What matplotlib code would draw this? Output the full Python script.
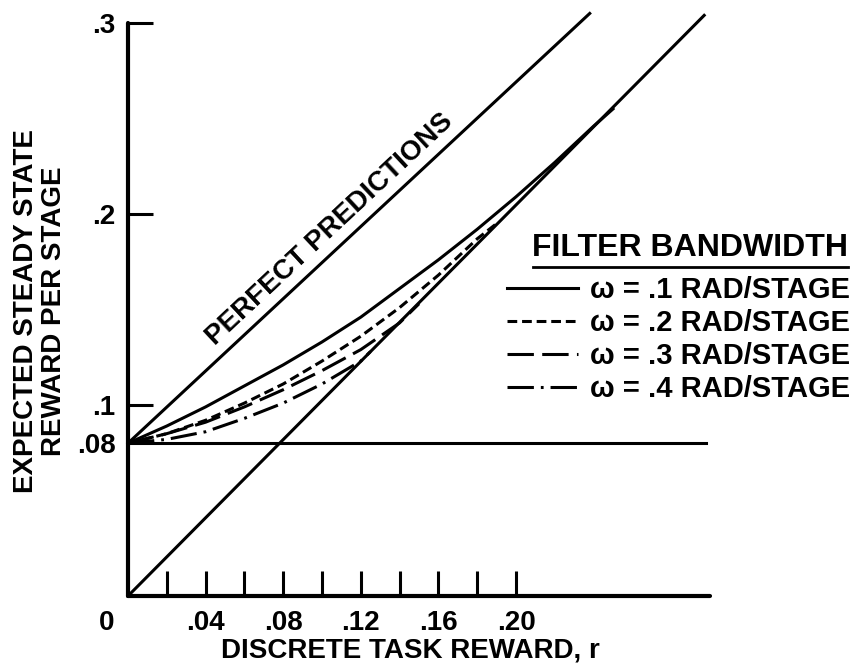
import matplotlib.pyplot as plt
from matplotlib.lines import Line2D
from matplotlib.transforms import ScaledTranslation

plt.rcParams['font.family'] = ['Liberation Sans', 'DejaVu Sans']
plt.rcParams['font.weight'] = 'bold'
plt.rcParams['axes.labelweight'] = 'bold'
plt.rcParams['lines.scale_dashes'] = False

# reference lines
r_line_x = [0.0, 0.297]
r_line_y = [0.0, 0.304]
perfect_x = [0.0, 0.238]
perfect_y = [0.08, 0.305]
base_x = [0.0, 0.298]
base_y = [0.08, 0.08]

# filter bandwidth curves
w1_x = [0.0, 0.02, 0.04, 0.06, 0.08, 0.10, 0.12, 0.14, 0.16, 0.18, 0.20, 0.22, 0.24, 0.25]
w1_y = [0.080, 0.089, 0.099, 0.110, 0.121, 0.133, 0.146, 0.161, 0.176, 0.192, 0.209, 0.227, 0.246, 0.255]
w2_x = [0.0, 0.02, 0.04, 0.06, 0.08, 0.10, 0.12, 0.14, 0.16, 0.18, 0.19]
w2_y = [0.080, 0.085, 0.092, 0.101, 0.111, 0.123, 0.136, 0.151, 0.168, 0.187, 0.195]
w3_x = [0.0, 0.02, 0.04, 0.06, 0.08, 0.10, 0.12, 0.14, 0.15]
w3_y = [0.080, 0.085, 0.091, 0.099, 0.108, 0.118, 0.129, 0.143, 0.153]
w4_x = [0.0, 0.02, 0.04, 0.06, 0.08, 0.10, 0.12, 0.125]
w4_y = [0.080, 0.082, 0.086, 0.093, 0.101, 0.111, 0.123, 0.128]

legend_labels = ['ω = .1 RAD/STAGE', 'ω = .2 RAD/STAGE',
                 'ω = .3 RAD/STAGE', 'ω = .4 RAD/STAGE']

xticks = [0.0, 0.02, 0.04, 0.06, 0.08, 0.10, 0.12, 0.14, 0.16, 0.18, 0.20]
xtick_labels = ['0', '', '.04', '', '.08', '', '.12', '', '.16', '', '.20']
yticks = [0.08, 0.1, 0.2, 0.3]
ytick_labels = ['.08', '.1', '.2', '.3']

fig = plt.figure(figsize=(8.55, 6.65), dpi=100)
ax = fig.add_axes([128 / 855, 69 / 665, 582 / 855, 573 / 665])
ax.set_xlim(0, 0.30)
ax.set_ylim(0, 0.30)

lw = 2.2
ax.plot(r_line_x, r_line_y, color='black', lw=lw, clip_on=False)
ax.plot(perfect_x, perfect_y, color='black', lw=lw, clip_on=False)
ax.plot(base_x, base_y, color='black', lw=lw, clip_on=False)

l1, = ax.plot(w1_x, w1_y, color='black', lw=lw, ls='-', clip_on=False)
l2, = ax.plot(w2_x, w2_y, color='black', lw=lw, ls=(0, (7, 3.5)), clip_on=False)
l3, = ax.plot(w3_x, w3_y, color='black', lw=lw, ls=(0, (19, 6)), clip_on=False)
l4, = ax.plot(w4_x, w4_y, color='black', lw=lw, ls=(0, (19, 5, 2, 5)), clip_on=False)

for s in ['top', 'right']:
    ax.spines[s].set_visible(False)
for s in ['left', 'bottom']:
    ax.spines[s].set_linewidth(3)
    ax.spines[s].set_capstyle('round')

ax.set_xticks(xticks)
ax.set_xticklabels(xtick_labels)
ax.set_yticks(yticks)
ax.set_yticklabels(ytick_labels)
ax.tick_params(axis='both', direction='in', length=18, width=2.2,
               labelsize=20, color='black')
ax.tick_params(axis='x', pad=10)
ax.tick_params(axis='y', pad=9)
# no tick marks for the .08 and 0 labels
ax.yaxis.get_major_ticks()[0].tick1line.set_visible(False)
ax.xaxis.get_major_ticks()[0].tick1line.set_visible(False)
zero_lab = ax.get_xticklabels()[0]
zero_lab.set_transform(zero_lab.get_transform() +
                       ScaledTranslation(-0.21, 0, fig.dpi_scale_trans))

ax.set_xlabel('DISCRETE TASK REWARD, r', fontsize=20)
ax.xaxis.set_label_coords(0.486, -0.072)
ax.set_ylabel('EXPECTED STEADY STATE\nREWARD PER STAGE', fontsize=20,
              linespacing=1.1)
ax.yaxis.set_label_coords(-0.104, 0.497)

ax.text(0.104, 0.192, 'PERFECT PREDICTIONS', rotation=43, fontsize=20,
        ha='center', va='center')

leg = ax.legend([l1, l2, l3, l4], legend_labels, loc='upper left',
                bbox_to_anchor=(507 / 855, 1 - 276 / 665),
                bbox_transform=fig.transFigure, frameon=False,
                fontsize=21, handlelength=2.45, handletextpad=0.4,
                labelspacing=0.17, borderpad=0, borderaxespad=0)

fig.text(690 / 855, 1 - 248 / 665, 'FILTER BANDWIDTH', fontsize=23,
         ha='center', va='center')
fig.add_artist(Line2D([533 / 855, 848 / 855], [1 - 267 / 665, 1 - 267 / 665],
                      transform=fig.transFigure, color='black', lw=2))

fig.savefig('out.png', dpi=100)
